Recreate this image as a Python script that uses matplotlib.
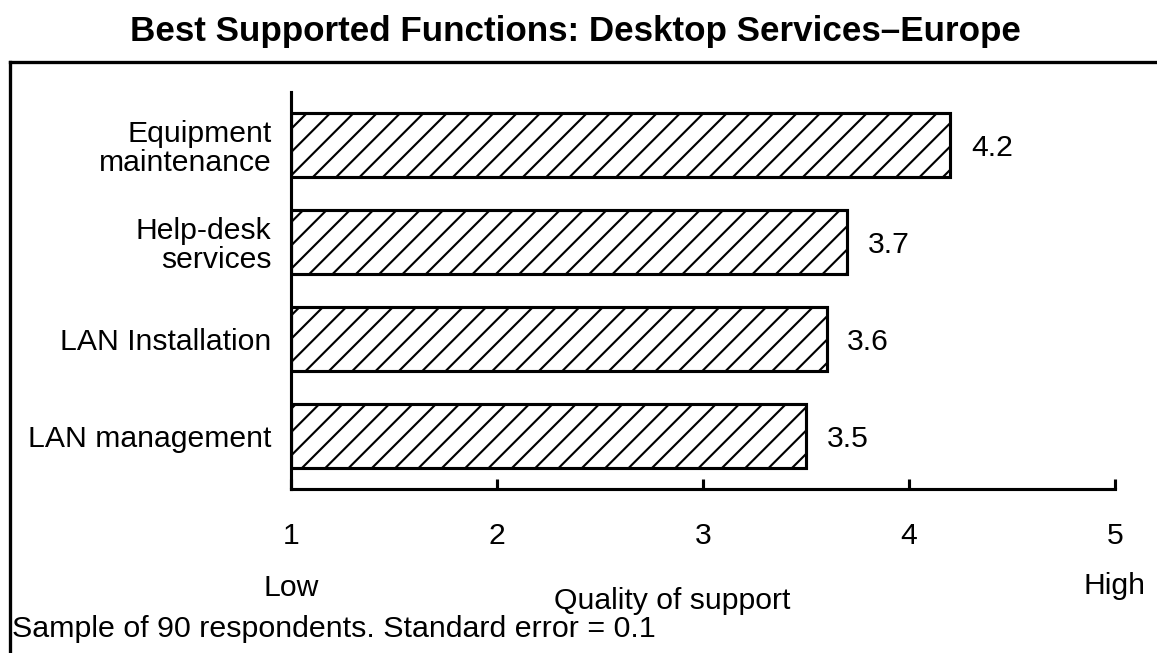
"""Best supported functions: Desktop Services - Europe (hatched bar chart)."""

import matplotlib

matplotlib.use("Agg")
import matplotlib.pyplot as plt
from matplotlib.lines import Line2D

# data
functions = ["LAN management", "LAN Installation", "Help-desk\nservices", "Equipment\nmaintenance"]
scores = [3.5, 3.6, 3.7, 4.2]
x_ticks = [1, 2, 3, 4, 5]

DPI = 140
plt.rcParams["font.family"] = ["Liberation Sans", "DejaVu Sans"]
plt.rcParams["hatch.linewidth"] = 1.1
plt.rcParams["hatch.color"] = "black"

fig = plt.figure(figsize=(1157 / DPI, 653 / DPI), dpi=DPI)
fig.patch.set_facecolor("white")

# frame around the plot area (open to the right and bottom, as in the scan)
frame_left, frame_top = 10 / 1157, 1 - 62 / 653
fig.add_artist(Line2D([frame_left, frame_left], [frame_top, 0], color="black", linewidth=1.7))
fig.add_artist(Line2D([frame_left, 1], [frame_top, frame_top], color="black", linewidth=1.7))

ax = fig.add_axes([291 / 1157, 1 - 489 / 653, 824 / 1157, 397 / 653])

positions = list(range(len(functions)))
ax.barh(positions, [s - 1 for s in scores], left=1, height=0.66,
        facecolor="white", edgecolor="black", linewidth=1.6, hatch="//")

for y, s in zip(positions, scores):
    ax.text(s + 0.1, y - 0.03, f"{s:.1f}", ha="left", va="center", fontsize=15.5)

ax.set_xlim(1, 5)
ax.set_ylim(-0.546, 3.546)
ax.set_xticks(x_ticks)
ax.set_xticklabels([str(t) for t in x_ticks], fontsize=15.5)
ax.set_yticks(positions)
ax.set_yticklabels(functions, fontsize=15.5, ha="right", multialignment="right",
                   linespacing=1.05)

ax.tick_params(axis="x", direction="in", length=5, width=1.6, pad=17)
ax.tick_params(axis="y", length=0, pad=10)

for side in ("top", "right"):
    ax.spines[side].set_visible(False)
for side in ("left", "bottom"):
    ax.spines[side].set_linewidth(1.6)

ax.text(0, -0.25, "Low", transform=ax.transAxes, ha="center", va="center", fontsize=15.5)
ax.text(1, -0.245, "High", transform=ax.transAxes, ha="center", va="center", fontsize=15.5)
ax.set_xlabel("Quality of support", fontsize=15.5)
ax.xaxis.set_label_coords((672 - 291) / 824, -0.283)
ax.xaxis.label.set_verticalalignment("center")

fig.text(575 / 1157, 1 - 32 / 653, "Best Supported Functions: Desktop Services\u2013Europe",
         ha="center", va="center", fontsize=18, fontweight="bold")
fig.text(12 / 1157, 1 - 629 / 653, "Sample of 90 respondents. Standard error = 0.1",
         ha="left", va="center", fontsize=15.6)

fig.savefig("out.png", dpi=DPI)
